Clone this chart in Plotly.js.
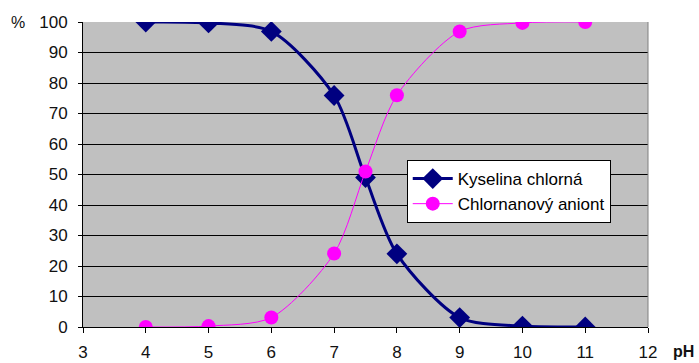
<!DOCTYPE html>
<html><head><meta charset="utf-8">
<script src="https://cdn.plot.ly/plotly-3.0.1.min.js"></script>
<style>body{margin:0;background:#fff}#c{width:699px;height:363px}</style>
</head><body><div id="c"></div>
<script>
const ph = [4, 5, 6, 7, 7.5, 8, 9, 10, 11];
const acid = [100, 99.7, 96.9, 75.9, 49, 24, 3.1, 0.3, 0.03];
const anion = [0, 0.3, 3.1, 24.1, 51, 76, 96.9, 99.7, 100];
const names = ['Kyselina chlorná', 'Chlornanový aniont'];
const xTicks = [3,4,5,6,7,8,9,10,11,12];
const yTicks = [0,10,20,30,40,50,60,70,80,90,100];

const traces = [
  {x: ph, y: acid, name: names[0], mode: 'lines+markers',
   line: {color: '#000080', width: 3, shape: 'spline', smoothing: 0.8},
   marker: {symbol: 'diamond', size: 16, color: '#000080'}},
  {x: ph, y: anion, name: names[1], mode: 'lines+markers',
   line: {color: '#FF00FF', width: 1, shape: 'spline', smoothing: 0.8},
   marker: {symbol: 'circle', size: 14, color: '#FF00FF'}}
];
const layout = {
  width: 699, height: 363,
  margin: {l: 83, r: 51, t: 22, b: 36},
  paper_bgcolor: '#fff', plot_bgcolor: '#C0C0C0',
  font: {family: 'Liberation Sans, Arial, sans-serif', size: 17, color: '#111'},
  showlegend: true,
  legend: {x: 0.573, y: 0.5475, xanchor: 'left', yanchor: 'top', bgcolor: '#fff',
    bordercolor: '#000', borderwidth: 1, font: {size: 17, color: '#000'},
    itemwidth: 40, tracegroupgap: 4},
  xaxis: {range: [3, 12], tickvals: xTicks, showgrid: false, zeroline: false,
    showline: true, linecolor: '#000', linewidth: 1, ticks: 'outside', ticklen: 5,
    tickcolor: '#000', ticklabelstandoff: 5, tickfont: {size: 17}},
  yaxis: {range: [0, 100], tickvals: yTicks, showgrid: true, gridcolor: '#000',
    gridwidth: 1, zeroline: false, showline: true, linecolor: '#000', linewidth: 1,
    ticks: 'outside', ticklen: 4, tickcolor: '#000', ticklabelstandoff: 7,
    tickfont: {size: 17}},
  shapes: [
    {type: 'line', xref: 'paper', yref: 'paper', x0: 1, x1: 1, y0: 0, y1: 1,
     line: {color: '#808080', width: 1}}
  ],
  annotations: [
    {text: '%', xref: 'paper', yref: 'paper', x: -0.115, y: 1, xanchor: 'center',
     yanchor: 'middle', showarrow: false, font: {size: 16}},
    {text: '<b>pH</b>', xref: 'paper', yref: 'paper', x: 1.04, y: -0.08,
     xanchor: 'left', yanchor: 'middle', showarrow: false, font: {size: 16}}
  ]
};
Plotly.newPlot('c', traces, layout, {displayModeBar: false, staticPlot: true});
</script></body></html>
